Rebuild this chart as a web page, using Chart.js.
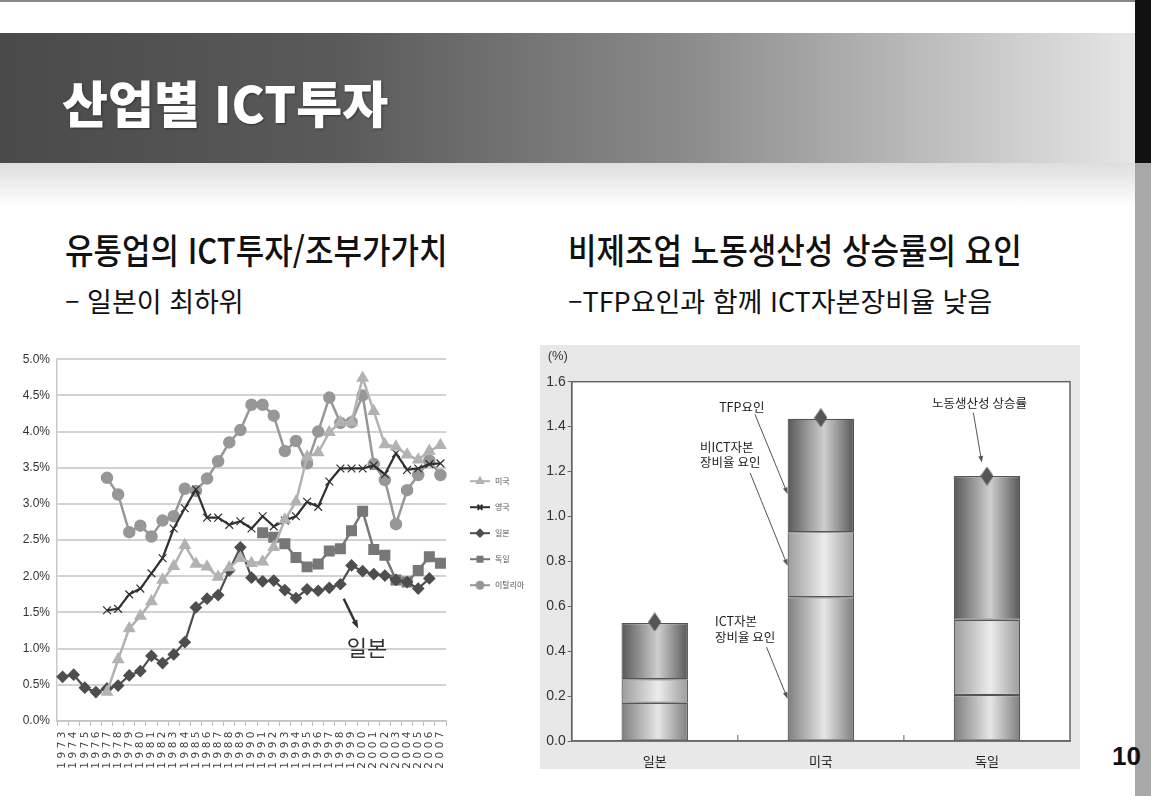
<!DOCTYPE html>
<html lang="ko">
<head>
<meta charset="utf-8">
<title>산업별 ICT투자</title>
<script src="https://cdn.jsdelivr.net/npm/chart.js@4.4.1/dist/chart.umd.min.js"></script>
<style>
  html, body { margin: 0; padding: 0; }
  body { width: 1151px; height: 796px; position: relative; overflow: hidden; background: #fff;
         font-family: 'Noto Sans CJK KR', sans-serif; color: #111; }
  .abs { position: absolute; line-height: 1; white-space: nowrap; }
  #topline { left: 0; top: 0; width: 1151px; height: 2px; background: #888; }
  #banner { left: 0; top: 33px; width: 1135px; height: 130px;
            background: linear-gradient(to right, #4a4a4a 0%, #5a5a5a 30%, #8a8a8a 60%, #c4c4c4 85%, #e6e6e6 100%); }
  #fade { left: 0; top: 163px; width: 1135px; height: 45px; background: linear-gradient(to bottom, #dedede, #ffffff); }
  #sideTop { left: 1135px; top: 0; width: 16px; height: 163px; background: #111; }
  #side { left: 1135px; top: 163px; width: 16px; height: 633px; background: #a8a8a8; }
  #title { left: 62px; top: 76px; font-size: 50px; font-weight: 900; color: #fff; text-shadow: 1px 1px 2px #333; }
  .sub { font-size: 31px; font-weight: 500; top: 233px; transform: scaleY(1.12); transform-origin: 0 50%; }
  .sub2 { font-size: 27px; top: 287px; }
  #page { left: 1112px; top: 743px; font-family: 'Liberation Sans', sans-serif; font-weight: bold; font-size: 26px; }
  #leftWrap { left: 0; top: 345px; width: 535px; height: 435px; }
  #rightWrap { left: 540px; top: 345px; width: 540px; height: 424px; background: #e8e8e8; }
</style>
</head>
<body>
<div class="abs" id="topline"></div>
<div class="abs" id="banner"></div>
<div class="abs" id="fade"></div>
<div class="abs" id="sideTop"></div>
<div class="abs" id="side"></div>
<div class="abs" id="title">산업별 ICT투자</div>
<div class="abs sub" style="left:65px">유통업의 ICT투자/조부가가치</div>
<div class="abs sub2" style="left:65px">– 일본이 최하위</div>
<div class="abs sub" style="left:568px">비제조업 노동생산성 상승률의 요인</div>
<div class="abs sub2" style="left:568px">–TFP요인과 함께 ICT자본장비율 낮음</div>
<div class="abs" id="page">10</div>
<div class="abs" id="leftWrap"><canvas id="ictChart" width="535" height="435"></canvas></div>
<div class="abs" id="rightWrap"><canvas id="factorChart" width="540" height="424"></canvas></div>

<script>
// 유통업의 ICT투자/조부가가치 (%)
const years = ['1973', '1974', '1975', '1976', '1977', '1978', '1979', '1980', '1981', '1982',
  '1983', '1984', '1985', '1986', '1987', '1988', '1989', '1990', '1991', '1992',
  '1993', '1994', '1995', '1996', '1997', '1998', '1999', '2000', '2001', '2002',
  '2003', '2004', '2005', '2006', '2007'];
const usShare = [null, null, null, null, 0.40, 0.85, 1.28, 1.45, 1.65, 1.95,
  2.14, 2.43, 2.17, 2.13, 1.99, 2.12, 2.25, 2.18, 2.20, 2.40,
  2.78, 3.03, 3.65, 3.71, 3.99, 4.13, 4.13, 4.74, 4.28, 3.82,
  3.79, 3.68, 3.61, 3.73, 3.81];
const ukShare = [null, null, null, null, 1.53, 1.55, 1.75, 1.83, 2.04, 2.25,
  2.66, 2.94, 3.20, 2.81, 2.81, 2.71, 2.76, 2.66, 2.83, 2.69,
  2.77, 2.83, 3.03, 2.96, 3.31, 3.49, 3.49, 3.49, 3.53, 3.41,
  3.70, 3.47, 3.49, 3.55, 3.56];
const japanShare = [0.61, 0.64, 0.46, 0.40, 0.45, 0.49, 0.63, 0.69, 0.90, 0.80,
  0.92, 1.09, 1.57, 1.69, 1.74, 2.08, 2.40, 1.98, 1.93, 1.94,
  1.81, 1.70, 1.82, 1.80, 1.84, 1.89, 2.15, 2.07, 2.03, 2.01,
  1.95, 1.92, 1.83, 1.97, null];
const germanyShare = [null, null, null, null, null, null, null, null, null, null,
  null, null, null, null, null, null, null, null, 2.60, 2.54,
  2.45, 2.26, 2.13, 2.17, 2.35, 2.38, 2.63, 2.90, 2.37, 2.29,
  1.95, 1.92, 2.08, 2.27, 2.18];
const italyShare = [null, null, null, null, 3.36, 3.13, 2.61, 2.70, 2.55, 2.77,
  2.83, 3.21, 3.18, 3.35, 3.59, 3.85, 4.02, 4.37, 4.37, 4.22,
  3.73, 3.87, 3.56, 4.00, 4.47, 4.12, 4.13, 4.50, 3.55, 3.33,
  2.72, 3.19, 3.40, 3.60, 3.40];

// 비제조업 노동생산성 상승률의 요인 (%)
const countries = ['일본', '미국', '독일'];
const ictCapital = [0.17, 0.64, 0.205];
const nonIctCapital = [0.105, 0.29, 0.335];
const tfpFactor = [0.25, 0.505, 0.64];
const laborGrowth = [0.53, 1.44, 1.18];

const narrow = "'Liberation Sans Narrow', 'Liberation Sans', sans-serif";
const korean = "'Noto Sans CJK KR', sans-serif";

function drawArrow(ctx, x1, y1, x2, y2, color, width, head) {
  const a = Math.atan2(y2 - y1, x2 - x1);
  ctx.save();
  ctx.strokeStyle = color;
  ctx.fillStyle = color;
  ctx.lineWidth = width;
  ctx.beginPath();
  ctx.moveTo(x1, y1);
  ctx.lineTo(x2 - head * 0.7 * Math.cos(a), y2 - head * 0.7 * Math.sin(a));
  ctx.stroke();
  ctx.beginPath();
  ctx.moveTo(x2, y2);
  ctx.lineTo(x2 - head * Math.cos(a - 0.35), y2 - head * Math.sin(a - 0.35));
  ctx.lineTo(x2 - head * Math.cos(a + 0.35), y2 - head * Math.sin(a + 0.35));
  ctx.closePath();
  ctx.fill();
  ctx.restore();
}

// wider year labels on the x axis, reset before the lines are drawn
const yearSpacing = {
  id: 'yearSpacing',
  beforeDraw(chart) { chart.ctx.letterSpacing = '3.5px'; },
  beforeDatasetsDraw(chart) { chart.ctx.letterSpacing = '0px'; }
};

const lineLegend = {
  id: 'lineLegend',
  afterDraw(chart) {
    const ctx = chart.ctx;
    const x0 = chart.chartArea.right + 24;
    chart.data.datasets.forEach((ds, i) => {
      const y = chart.chartArea.top + 122 + i * 26;
      ctx.save();
      ctx.strokeStyle = ds.borderColor;
      ctx.lineWidth = 2;
      ctx.beginPath();
      ctx.moveTo(x0, y);
      ctx.lineTo(x0 + 20, y);
      ctx.stroke();
      ctx.fillStyle = ds.borderColor;
      Chart.helpers.drawPoint(ctx, {pointStyle: ds.pointStyle, rotation: 0, radius: 3.5, borderWidth: 1.2}, x0 + 10, y);
      ctx.fillStyle = '#555';
      ctx.font = '8px ' + korean;
      ctx.textBaseline = 'middle';
      ctx.fillText(ds.label, x0 + 25, y);
      ctx.restore();
    });
  }
};

const japanNote = {
  id: 'japanNote',
  afterDraw(chart) {
    const {ctx, scales: {x, y}} = chart;
    drawArrow(ctx, x.getPixelForValue(25.3), y.getPixelForValue(1.69),
      x.getPixelForValue(26.6), y.getPixelForValue(1.28), '#333', 2.5, 9);
    ctx.save();
    ctx.font = '22px ' + korean;
    ctx.fillStyle = '#333';
    ctx.textAlign = 'center';
    ctx.textBaseline = 'middle';
    ctx.fillText('일본', x.getPixelForValue(27.4), y.getPixelForValue(1.01));
    ctx.restore();
  }
};

new Chart(document.getElementById('ictChart'), {
  type: 'line',
  data: {
    labels: years,
    datasets: [
      {label: '미국', data: usShare, borderColor: '#b2b2b2', backgroundColor: '#b2b2b2',
       pointStyle: 'triangle', pointRadius: 5, borderWidth: 2.5},
      {label: '영국', data: ukShare, borderColor: '#303030', backgroundColor: '#303030',
       pointStyle: 'crossRot', pointRadius: 5.5, pointBorderWidth: 1.2, borderWidth: 2.2},
      {label: '일본', data: japanShare, borderColor: '#4e4e4e', backgroundColor: '#4e4e4e',
       pointStyle: 'rectRot', pointRadius: 4.8, borderWidth: 2.2},
      {label: '독일', data: germanyShare, borderColor: '#777', backgroundColor: '#777',
       pointStyle: 'rect', pointRadius: 6, borderWidth: 2.5},
      {label: '이탈리아', data: italyShare, borderColor: '#979797', backgroundColor: '#979797',
       pointStyle: 'circle', pointRadius: 5, borderWidth: 2.5}
    ]
  },
  options: {
    responsive: false,
    animation: false,
    devicePixelRatio: 1,
    layout: {padding: {top: 13.5, right: 89, bottom: 5, left: 0}},
    plugins: {legend: {display: false}, tooltip: {enabled: false}},
    scales: {
      x: {
        offset: true,
        grid: {offset: true, drawOnChartArea: false, tickLength: 5, color: '#bbb'},
        border: {color: '#c4c4c4', width: 1.5},
        ticks: {autoSkip: false, minRotation: 90, maxRotation: 90, padding: 2, color: '#444',
                font: {family: "'DejaVu Sans', sans-serif", size: 10.5}},
        afterFit: (s) => { s.height = 54; }
      },
      y: {
        min: 0, max: 5,
        grid: {color: '#d2d2d2', lineWidth: 2, drawTicks: false},
        border: {color: '#c8c8c8', width: 1.5},
        ticks: {stepSize: 0.5, padding: 7, color: '#333', z: 1,
                font: {family: narrow, size: 12},
                callback: (v) => v.toFixed(1) + '%'},
        afterFit: (s) => { s.width = 57; }
      }
    }
  },
  plugins: [yearSpacing, lineLegend, japanNote]
});

// right chart: cylinder shaded stacked bars
function cylinder(c, light, dark) {
  const chart = c.chart;
  const area = chart.chartArea;
  if (!area || c.dataIndex === undefined) return dark;
  const cx = chart.scales.x.getPixelForValue(c.dataIndex);
  const w = area.width / countries.length * 0.4;
  const g = chart.ctx.createLinearGradient(cx - w / 2, 0, cx + w / 2, 0);
  g.addColorStop(0, dark);
  g.addColorStop(0.55, light);
  g.addColorStop(1, dark);
  return g;
}

const diamond = document.createElement('canvas');
diamond.width = 13;
diamond.height = 19;
(function () {
  const d = diamond.getContext('2d');
  d.fillStyle = '#555';
  d.beginPath();
  d.moveTo(6.5, 0);
  d.lineTo(13, 9.5);
  d.lineTo(6.5, 19);
  d.lineTo(0, 9.5);
  d.closePath();
  d.fill();
})();

const notes = [
  {lines: ['TFP요인'], x: 0.524, y: 1.488, align: 'center', from: [0.603, 1.455], to: [0.8, 1.10]},
  {lines: ['비ICT자본', '장비율 요인'], x: 0.273, y: 1.31, align: 'left', from: [0.574, 1.194], to: [0.8, 0.78]},
  {lines: ['ICT자본', '장비율 요인'], x: 0.363, y: 0.532, align: 'left', from: [0.673, 0.418], to: [0.8, 0.188]},
  {lines: ['노동생산성 상승률'], x: 1.955, y: 1.503, align: 'center', from: [1.918, 1.462], to: [1.969, 1.24]}
];

const factorFrame = {
  id: 'factorFrame',
  beforeDraw(chart) {
    const {ctx, chartArea: a} = chart;
    ctx.save();
    ctx.fillStyle = '#fff';
    ctx.fillRect(a.left, a.top, a.width, a.height);
    ctx.restore();
  },
  afterDraw(chart) {
    const {ctx, chartArea: a, scales: {x, y}} = chart;
    ctx.save();
    ctx.strokeStyle = '#666';
    ctx.lineWidth = 1.5;
    ctx.strokeRect(a.left, a.top, a.width, a.height);
    ctx.lineWidth = 1;
    for (let i = 0; i < countries.length - 1; i++) {
      const bx = x.getPixelForValue(i + 0.5);
      ctx.beginPath();
      ctx.moveTo(bx, a.bottom);
      ctx.lineTo(bx, a.bottom - 6);
      ctx.stroke();
    }
    ctx.fillStyle = '#333';
    ctx.font = '13px ' + narrow;
    ctx.textBaseline = 'middle';
    ctx.fillText('(%)', a.left - 24, a.top - 25);

    ctx.font = '12.5px ' + korean;
    ctx.fillStyle = '#222';
    notes.forEach((n) => {
      ctx.textAlign = n.align;
      n.lines.forEach((t, k) => {
        ctx.fillText(t, x.getPixelForValue(n.x), y.getPixelForValue(n.y) + k * 15.5);
      });
      drawArrow(ctx, x.getPixelForValue(n.from[0]), y.getPixelForValue(n.from[1]),
        x.getPixelForValue(n.to[0]), y.getPixelForValue(n.to[1]), '#555', 1, 7);
    });
    ctx.restore();
  }
};

const barCommon = {barPercentage: 0.4, categoryPercentage: 1, borderColor: '#555', borderWidth: 1.2,
  borderSkipped: false, stack: 'factors', order: 1};

new Chart(document.getElementById('factorChart'), {
  type: 'bar',
  data: {
    labels: countries,
    datasets: [
      Object.assign({label: 'ICT자본 장비율 요인', data: ictCapital,
        backgroundColor: (c) => cylinder(c, '#e6e6e6', '#7e7e7e')}, barCommon),
      Object.assign({label: '비ICT자본 장비율 요인', data: nonIctCapital,
        backgroundColor: (c) => cylinder(c, '#ececec', '#9c9c9c')}, barCommon),
      Object.assign({label: 'TFP요인', data: tfpFactor,
        backgroundColor: (c) => cylinder(c, '#cfcfcf', '#575757')}, barCommon),
      {type: 'line', label: '노동생산성 상승률', data: laborGrowth, showLine: false,
       pointStyle: diamond, pointRadius: 8, stack: 'total', order: 0}
    ]
  },
  options: {
    responsive: false,
    animation: false,
    devicePixelRatio: 1,
    layout: {padding: {top: 36.7, right: 10, bottom: 0, left: 0}},
    plugins: {legend: {display: false}, tooltip: {enabled: false}},
    scales: {
      x: {
        stacked: true,
        grid: {display: false},
        border: {color: '#666', width: 1.5},
        ticks: {color: '#222', padding: 4, font: {family: korean, size: 13}},
        afterFit: (s) => { s.height = 28; }
      },
      y: {
        stacked: true,
        min: 0, max: 1.6,
        grid: {drawOnChartArea: false, tickLength: 4, color: '#666'},
        border: {color: '#666', width: 1.5},
        ticks: {stepSize: 0.2, padding: 2, color: '#333', font: {family: narrow, size: 14},
                callback: (v) => v.toFixed(1)},
        afterFit: (s) => { s.width = 31.7; }
      }
    }
  },
  plugins: [factorFrame]
});
</script>
</body>
</html>
